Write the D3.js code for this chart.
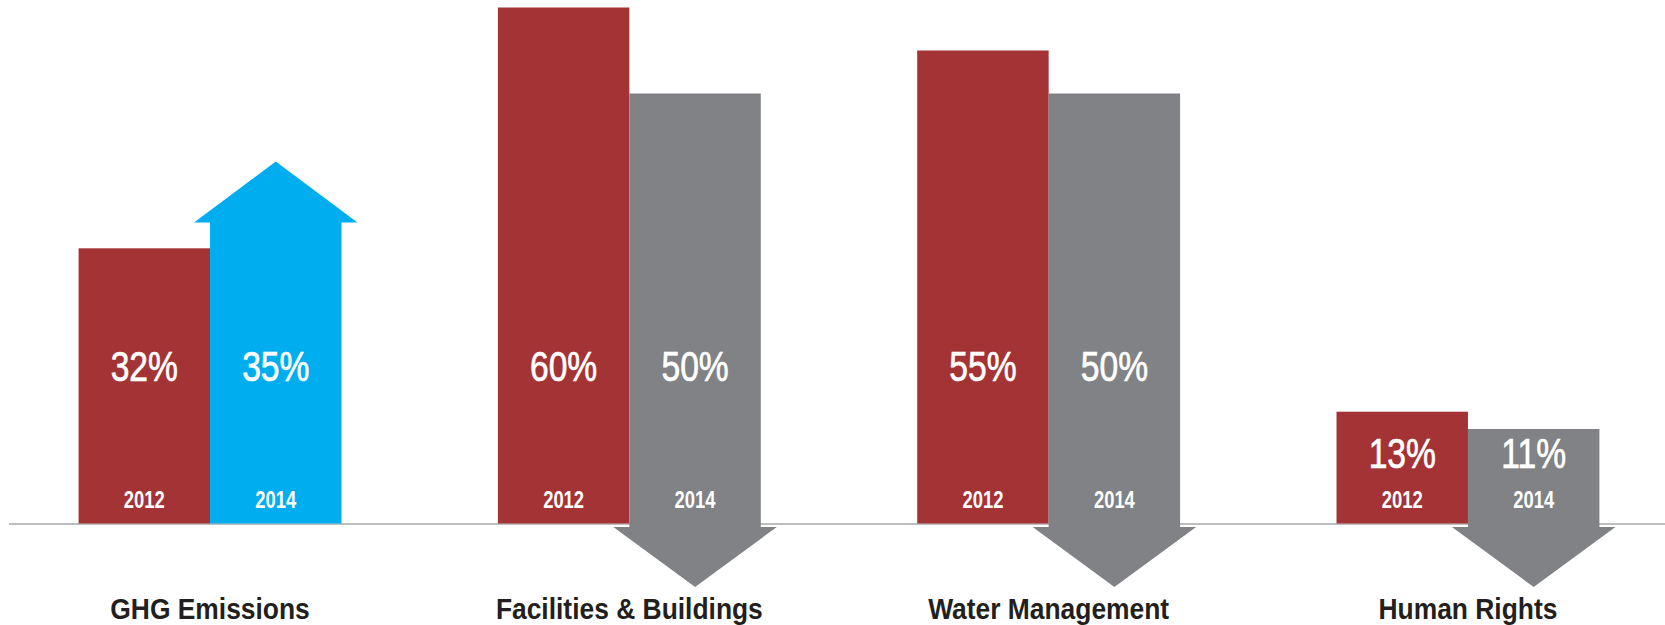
<!DOCTYPE html>
<html>
<head>
<meta charset="utf-8">
<script src="https://cdn.jsdelivr.net/npm/d3@7"></script>
<style>
  body { margin:0; background:#fff; }
  text { font-family:"Liberation Sans",Arial,sans-serif; }
</style>
</head>
<body>
<div class="chart"></div>
<script>
var categories = ["GHG Emissions", "Facilities & Buildings", "Water Management", "Human Rights"];
var years = ["2012", "2014"];
var values2012 = [32, 60, 55, 13];
var values2014 = [35, 50, 50, 11];

var options = {
  width:1665,
  height:625,
  baseY:523.5,
  red:'#a43335',
  upColor:'#00aeef',
  downColor:'#808285',
  lineColor:'#a7a9ac',
  headOver:16,
  headHeight:61
};

var svg = d3.select(".chart").append("svg")
            .attr("width",options.width)
            .attr("height",options.height);

var x = d3.scaleBand().domain(categories).range([0,1678])
          .paddingInner(0.373).paddingOuter(0.1874);
var xs = d3.scaleBand().domain(years).range([0,x.bandwidth()]);
var y = d3.scaleLinear().domain([0,60]).range([options.baseY, options.baseY - 60*8.6]);

var rows = categories.map(function(c,i){
  return {cat:c, v2012:values2012[i], v2014:values2014[i]};
});

// baseline
svg.append("line")
   .attr("x1",9).attr("x2",options.width)
   .attr("y1",options.baseY+0.5).attr("y2",options.baseY+0.5)
   .style("stroke",options.lineColor).style("stroke-width",1.6);

var g = svg.selectAll(".group").data(rows).enter()
           .append("g").attr("class","group")
           .attr("transform",function(d){ return "translate(" + x(d.cat) + ",0)"; });

// 2012 bars
g.append("rect")
 .attr("x",xs("2012"))
 .attr("width",xs.bandwidth())
 .attr("y",function(d){ return y(d.v2012); })
 .attr("height",function(d){ return options.baseY - y(d.v2012); })
 .style("fill",options.red);

// 2014 arrows
function arrowPath(d){
  var x0 = xs("2014"), x1 = x0 + xs.bandwidth(), cx = (x0+x1)/2;
  var oh = options.headOver, hh = options.headHeight, top = y(d.v2014);
  if (d.v2014 > d.v2012) {
    return "M"+x0+","+options.baseY+"V"+top+"H"+(x0-oh)+"L"+cx+","+(top-hh)+
           "L"+(x1+oh)+","+top+"H"+x1+"V"+options.baseY+"Z";
  }
  var ht = options.baseY + 3.5;
  return "M"+x0+","+top+"H"+x1+"V"+ht+"H"+(x1+oh)+"L"+cx+","+(ht+hh-1)+
         "L"+(x0-oh)+","+ht+"H"+x0+"Z";
}
g.append("path")
 .attr("d",arrowPath)
 .style("fill",function(d){ return d.v2014 > d.v2012 ? options.upColor : options.downColor; });

// condensed text: squeeze horizontally
function place(cx, cy, sx){ return "translate(" + cx + "," + cy + ") scale(" + sx + ",1)"; }

// value labels
function labelY(d){ return Math.max(381, y(Math.max(d.v2012,d.v2014)) + 56); }
years.forEach(function(yr){
  var cx = xs(yr) + xs.bandwidth()/2;
  g.append("text")
   .attr("transform",function(d){ return place(cx, labelY(d), 0.8); })
   .style("text-anchor","middle")
   .style("fill","#fff")
   .style("stroke","#fff")
   .style("stroke-width",0.7)
   .style("font-size","42px")
   .text(function(d){ return d["v"+yr] + "%"; });
  g.append("text")
   .attr("transform",place(cx, 507.5, 0.8))
   .style("text-anchor","middle")
   .style("fill","#fff")
   .style("font-size","23px")
   .style("font-weight","bold")
   .text(yr);
});

// category labels
g.append("text")
 .attr("transform",place(x.bandwidth()/2, 619, 0.88))
 .style("text-anchor","middle")
 .style("fill","#231f20")
 .style("font-size","30px")
 .style("font-weight","bold")
 .text(function(d){ return d.cat; });
</script>
</body>
</html>
